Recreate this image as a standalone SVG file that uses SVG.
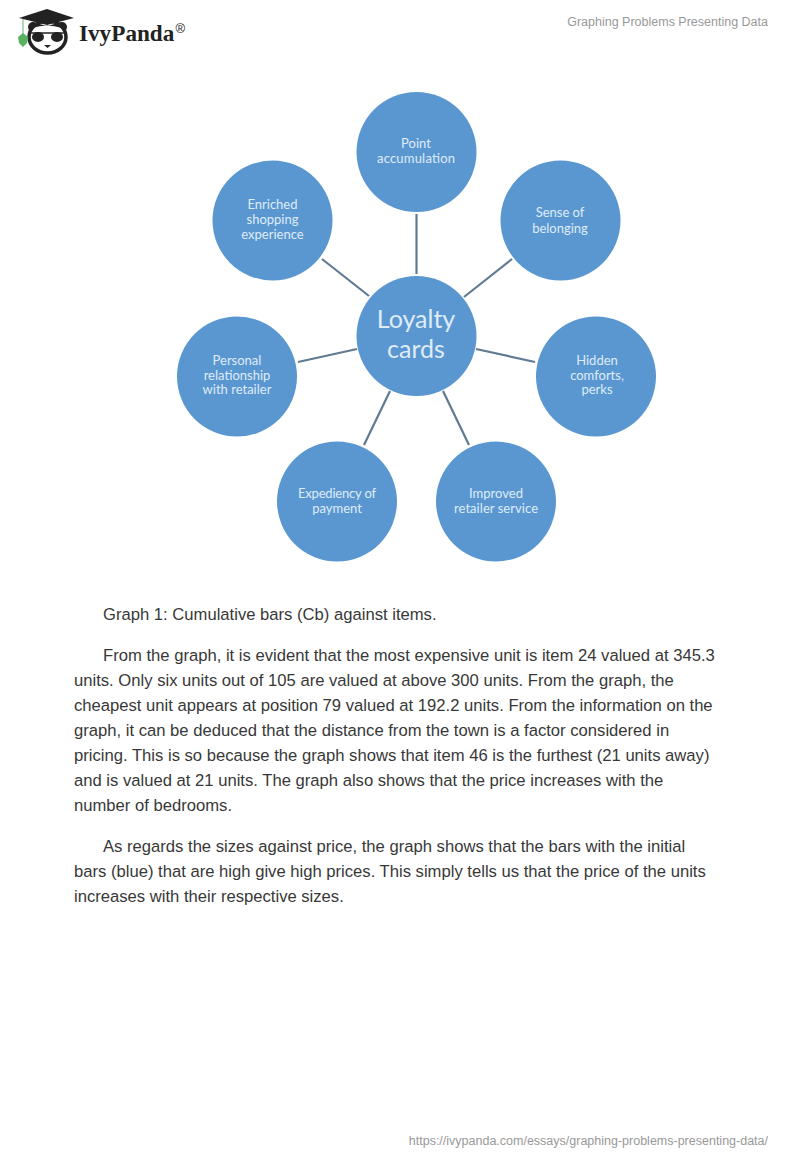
<svg xmlns="http://www.w3.org/2000/svg" width="800" height="1160" viewBox="0 0 800 1160">
<style>
.n{fill:#5a97d1}
.l{font-family:"Lato","Open Sans",sans-serif;font-size:13px;fill:#dfecf8;text-anchor:middle}
.c{stroke:#607a92;stroke-width:2.2;fill:none}
.b{font-family:"Liberation Sans",Arial,sans-serif;font-size:16.64px;fill:#383838}
.g{font-family:"Liberation Sans",Arial,sans-serif;font-size:12.5px;fill:#999}
</style>
<rect width="800" height="1160" fill="#fff"/>
<g id="logo">
<circle cx="33" cy="27" r="5" fill="#222"/><circle cx="62" cy="27" r="5" fill="#222"/>
<ellipse cx="47.500" cy="37" rx="18.500" ry="16" fill="#fff" stroke="#222" stroke-width="3.500"/>
<ellipse cx="38" cy="37" rx="6" ry="5" fill="#222"/><ellipse cx="57" cy="37" rx="6" ry="5" fill="#222"/>
<path d="M31 33H64" stroke="#222" stroke-width="1.500"/>
<path d="M44 45h7l-3.500 3z" fill="#222"/>
<path d="M19 18L47 9 74 18 47 25z" fill="#222"/>
<path d="M32 22v6q15-5 30 0v-6l-15 4z" fill="#222"/>
<path d="M23 19v15" stroke="#63b76c" stroke-width="1"/>
<path d="M23 33l5 4-1 6-4 4-4-4-1-6z" fill="#57b35f"/>
<text x="79" y="41" font-family="Liberation Serif,serif" font-weight="700" font-size="23.200" fill="#222">IvyPanda</text>
<text x="175.500" y="33" font-family="Liberation Sans,sans-serif" font-size="13" fill="#222">®</text>
</g>
<text class="g" x="768" y="26" text-anchor="end">Graphing Problems Presenting Data</text>
<g id="connectors">
<path class="c" d="M416.500 214V274"/>
<path class="c" d="M322 259L369 296"/>
<path class="c" d="M512 259L464 297"/>
<path class="c" d="M298 362L357 349"/>
<path class="c" d="M476 349L535 362"/>
<path class="c" d="M364 445L390 391"/>
<path class="c" d="M469 445L443 391"/>
</g>
<g id="center"><circle class="n" cx="416.500" cy="336" r="60"/>
<text x="416" y="328" font-family="Lato,Open Sans,sans-serif" font-size="25" fill="#dfecf8" text-anchor="middle">Loyalty</text>
<text x="416" y="358" font-family="Lato,Open Sans,sans-serif" font-size="25" fill="#dfecf8" text-anchor="middle">cards</text></g>
<g id="point"><circle class="n" cx="416.500" cy="152" r="60"/><text class="l" x="416" y="148">Point</text><text class="l" x="416" y="163" textLength="78">accumulation</text></g>
<g id="belonging"><circle class="n" cx="560.500" cy="220.500" r="60"/><text class="l" x="560" y="217">Sense of</text><text class="l" x="560" y="233">belonging</text></g>
<g id="hidden"><circle class="n" cx="596" cy="376.500" r="60"/><text class="l" x="597" y="365">Hidden</text><text class="l" x="597" y="380">comforts,</text><text class="l" x="597" y="394">perks</text></g>
<g id="improved"><circle class="n" cx="496" cy="501.500" r="60"/><text class="l" x="496" y="498">Improved</text><text class="l" x="496" y="513" textLength="84">retailer service</text></g>
<g id="expediency"><circle class="n" cx="337" cy="501.500" r="60"/><text class="l" x="337" y="498" textLength="78">Expediency of</text><text class="l" x="337" y="513">payment</text></g>
<g id="personal"><circle class="n" cx="237" cy="376.500" r="60"/><text class="l" x="237" y="365">Personal</text><text class="l" x="237" y="380">relationship</text><text class="l" x="237" y="394">with retailer</text></g>
<g id="enriched"><circle class="n" cx="272.500" cy="220.500" r="60"/><text class="l" x="272.500" y="209">Enriched</text><text class="l" x="272.500" y="224">shopping</text><text class="l" x="272.500" y="239">experience</text></g>
<text class="b" x="103" y="620">Graph 1: Cumulative bars (Cb) against items.</text>
<text class="b" x="103" y="661">From the graph, it is evident that the most expensive unit is item 24 valued at 345.3</text>
<text class="b" x="74" y="686">units. Only six units out of 105 are valued at above 300 units. From the graph, the</text>
<text class="b" x="74" y="711">cheapest unit appears at position 79 valued at 192.2 units. From the information on the</text>
<text class="b" x="74" y="736">graph, it can be deduced that the distance from the town is a factor considered in</text>
<text class="b" x="74" y="761">pricing. This is so because the graph shows that item 46 is the furthest (21 units away)</text>
<text class="b" x="74" y="786">and is valued at 21 units. The graph also shows that the price increases with the</text>
<text class="b" x="74" y="811">number of bedrooms.</text>
<text class="b" x="103" y="852">As regards the sizes against price, the graph shows that the bars with the initial</text>
<text class="b" x="74" y="877">bars (blue) that are high give high prices. This simply tells us that the price of the units</text>
<text class="b" x="74" y="902">increases with their respective sizes.</text>
<text class="g" x="768" y="1145" text-anchor="end">https://ivypanda.com/essays/graphing-problems-presenting-data/</text>
</svg>
